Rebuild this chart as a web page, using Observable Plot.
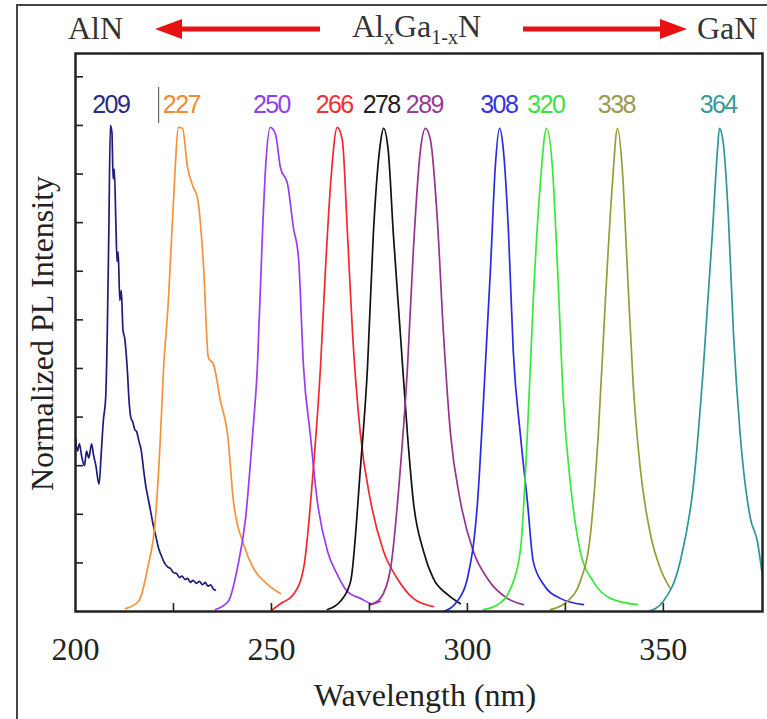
<!DOCTYPE html>
<html>
<head>
<meta charset="utf-8">
<script src="https://cdn.jsdelivr.net/npm/d3@7"></script>
<script src="https://cdn.jsdelivr.net/npm/@observablehq/plot@0.6"></script>
<style>
  body { margin: 0; background: #fff; }
  #wrap { position: relative; width: 767px; height: 719px; overflow: hidden; background: #fff; }
  #wrap > svg, #wrap figure { position: absolute; left: 0; top: 0; margin: 0; }
  #border { position: absolute; left: 16px; top: 4px; width: 760px; height: 730px;
            border-left: 2px solid #444; border-top: 2px solid #444; }
  .hdr { position: absolute; font-family: "Liberation Serif", serif; font-size: 32px; color: #333; line-height: 1; white-space: nowrap; }
  .hdr sub { font-size: 20px; vertical-align: -7px; line-height: 0; }
  .peak text { letter-spacing: -1.6px; }
</style>
</head>
<body>
<div id="wrap">
  <div id="border"></div>
  <div class="hdr" style="left:68px; top:12px;">AlN</div>
  <div class="hdr" style="left:352px; top:10px;">Al<sub>x</sub>Ga<sub>1-x</sub>N</div>
  <div class="hdr" style="left:697px; top:12px;">GaN</div>
  <svg id="arrows" width="767" height="60">
    <polygon points="155,29 182,19 182,26.5 320,26.5 320,31.5 182,31.5 182,39" fill="#e81212"/>
    <polygon points="687,29 660,19 660,26.5 523,26.5 523,31.5 660,31.5 660,39" fill="#e81212"/>
  </svg>
</div>
<script>
// ---- data (wavelength nm, normalized intensity) ----
const peaks = [209, 227, 250, 266, 278, 289, 308, 320, 338, 364];
const colors = ["#1c1c7c", "#f5923a", "#9a3cf2", "#f2282e", "#111111", "#94348f", "#2a2ae4", "#3ae83a", "#9a9a3a", "#2e9696"];
const labelColors = ["#2a2a88", "#f08a30", "#9040ee", "#ee3038", "#222222", "#9a3a96", "#3434e0", "#40e040", "#9a9a50", "#3a9a9a"];

const s209 = [[200.0,0.357],[200.5,0.330],[201.0,0.345],[201.6,0.318],[202.3,0.300],[202.8,0.330],[203.4,0.316],[204.1,0.345],[204.6,0.322],[205.2,0.300],[206.0,0.262],[206.6,0.330],[207.1,0.392],[207.7,0.440],[208.1,0.570],[208.5,0.780],[208.9,1.0],[209.3,0.985],[209.6,0.89],[209.9,0.91],[210.3,0.80],[210.6,0.72],[210.9,0.74],[211.3,0.64],[211.7,0.66],[212.1,0.58],[212.6,0.56],[213.2,0.50],[213.7,0.43],[214.1,0.40],[214.6,0.39],[215.1,0.375],[215.6,0.37],[216.2,0.35],[216.8,0.33],[217.4,0.29],[217.9,0.26],[218.6,0.23],[219.2,0.205],[219.9,0.175],[220.5,0.155],[221.2,0.13],[221.9,0.115],[222.7,0.10],[223.5,0.092],[224.3,0.088],[225.0,0.080],[225.8,0.078],[226.5,0.070],[227.2,0.073],[227.9,0.066],[228.6,0.068],[229.3,0.060],[230.0,0.064],[230.8,0.058],[231.6,0.062],[232.4,0.055],[233.1,0.060],[233.8,0.052],[234.5,0.055],[235.2,0.046],[235.7,0.044]];
const s227 = [[212.8,0.006],[216.1,0.021],[218.4,0.089],[220.4,0.192],[221.7,0.365],[222.4,0.489],[223.7,0.639],[225.0,0.845],[226.3,0.996],[227.3,0.994],[228.6,0.913],[230.1,0.872],[231.1,0.852],[232.7,0.707],[233.9,0.522],[235.2,0.509],[237.0,0.433],[238.8,0.365],[240.3,0.227],[242.9,0.138],[245.4,0.089],[249.0,0.056],[252.3,0.037]];
const s250 = [[235.7,0.004],[239.0,0.021],[241.3,0.089],[243.4,0.192],[245.2,0.365],[246.4,0.501],[247.7,0.777],[248.5,0.913],[249.7,0.996],[251.0,0.983],[252.3,0.913],[254.1,0.880],[255.6,0.790],[256.9,0.728],[258.2,0.501],[259.9,0.365],[261.7,0.227],[264.3,0.124],[266.8,0.076],[269.4,0.041],[272.7,0.027],[275.8,0.016],[277.8,0.021]];
const s266 = [[250.3,0.004],[252.3,0.016],[255.6,0.035],[258.2,0.089],[260.7,0.295],[262.5,0.501],[263.8,0.707],[265.1,0.880],[266.8,0.996],[268.1,0.969],[269.4,0.777],[270.7,0.571],[272.7,0.365],[275.3,0.227],[278.6,0.124],[282.1,0.068],[286.2,0.027],[291.3,0.010]];
const s278 = [[264.3,0.004],[267.6,0.021],[270.2,0.062],[272.7,0.295],[274.5,0.501],[276.0,0.777],[277.8,0.963],[278.6,0.994],[279.8,0.948],[281.1,0.777],[282.9,0.571],[284.7,0.365],[286.2,0.227],[288.8,0.124],[291.3,0.068],[294.9,0.035],[298.2,0.016]];
const s289 = [[275.3,0.014],[277.8,0.027],[280.4,0.089],[282.9,0.295],[284.7,0.501],[286.2,0.742],[288.0,0.948],[289.3,0.994],[290.6,0.969],[292.3,0.810],[293.9,0.571],[295.7,0.365],[298.2,0.227],[301.5,0.124],[305.1,0.068],[310.2,0.027],[314.3,0.014]];
const s308 = [[293.9,0.0],[297.4,0.021],[300.0,0.068],[302.6,0.227],[304.1,0.433],[305.9,0.707],[307.1,0.913],[308.2,0.994],[309.2,0.948],[310.5,0.777],[311.7,0.536],[313.5,0.365],[315.3,0.227],[316.8,0.103],[319.4,0.056],[323.7,0.027],[329.6,0.014]];
const s320 = [[304.1,0.004],[307.7,0.014],[311.0,0.047],[313.5,0.124],[315.3,0.365],[316.8,0.639],[318.6,0.880],[320.2,0.994],[321.7,0.913],[323.0,0.707],[324.5,0.433],[326.3,0.262],[328.8,0.124],[332.1,0.062],[336.5,0.027],[343.4,0.014]];
const s338 = [[321.2,0.004],[325.5,0.021],[328.8,0.062],[331.4,0.159],[333.4,0.365],[335.2,0.639],[337.0,0.880],[338.3,0.994],[339.5,0.913],[340.8,0.707],[342.3,0.468],[344.1,0.295],[346.7,0.159],[349.2,0.089],[351.8,0.047]];
const s364 = [[346.2,0.0],[350.0,0.021],[354.3,0.103],[357.7,0.262],[360.2,0.501],[362.5,0.777],[363.8,0.948],[364.3,0.994],[365.3,0.963],[366.6,0.810],[367.9,0.571],[369.6,0.365],[372.2,0.192],[374.0,0.144],[375.5,0.060]];
const spectra = [s209, s227, s250, s266, s278, s289, s308, s320, s338, s364];

const xTickLabels = [200, 250, 300, 350];
const xMinorTicks = [225, 250, 275, 300, 325, 350];
const yTicks = [0.1, 0.2, 0.3, 0.4, 0.5, 0.6, 0.7, 0.8, 0.9, 1.0, 1.1];
const cursorLine = [{x: 221.2, y1: 1.004, y2: 1.078}];
const xTitle = "Wavelength (nm)";
const yTitle = "Normalized PL Intensity";

// ---- build table ----
const rows = spectra.flatMap((s, i) => s.map(([w, v]) => ({w, v, peak: peaks[i]})));

const serif = "Liberation Serif";
const chart = Plot.plot({
  width: 767,
  height: 719,
  marginLeft: 75,
  marginRight: 5,
  marginTop: 53,
  marginBottom: 108,
  style: {fontFamily: "'Liberation Serif', serif", background: "transparent", overflow: "visible"},
  x: {domain: [200, 375.3], label: null},
  y: {domain: [0, 1.148], label: null},
  color: {domain: peaks, range: colors},
  marks: [
    Plot.line(rows, {x: "w", y: "v", z: "peak", stroke: "peak", strokeWidth: 1.7, curve: "monotone-x", clip: true}),
    Plot.ruleX(cursorLine, {x: "x", y1: "y1", y2: "y2", stroke: "#666", strokeWidth: 1.2}),
    Plot.text(peaks, {x: d => d, text: d => String(d), frameAnchor: "top", lineAnchor: "middle", dy: 51,
      fill: (d, i) => labelColors[i], fontSize: 25, fontFamily: "Liberation Sans", className: "peak"}),
    Plot.axisY({ticks: yTicks, tickSize: -8, tickFormat: () => "", stroke: "#222", strokeWidth: 1.6, label: null}),
    Plot.axisX({ticks: xMinorTicks, tickSize: -8, tickFormat: () => "", stroke: "#222", strokeWidth: 1.6, label: null}),
    Plot.axisX({ticks: xTickLabels, tickSize: 0, tickPadding: 26, fontSize: 32, fontFamily: serif, fill: "#222", label: null, className: "serif"}),
    Plot.text([xTitle], {frameAnchor: "bottom", dy: 94, dx: 6, lineAnchor: "bottom", fontSize: 32, fontFamily: serif, fill: "#222", className: "serif"}),
    Plot.text([yTitle], {frameAnchor: "left", textAnchor: "middle", dx: -23, dy: 1, rotate: -90, lineAnchor: "bottom", fontSize: 32, fontFamily: serif, fill: "#222", className: "serif"}),
    Plot.frame({stroke: "#222", strokeWidth: 2.5})
  ]
});
d3.select(chart).selectAll(".serif, .serif text").style("font-family", "'Liberation Serif', serif");
document.getElementById("wrap").appendChild(chart);
</script>
</body>
</html>
